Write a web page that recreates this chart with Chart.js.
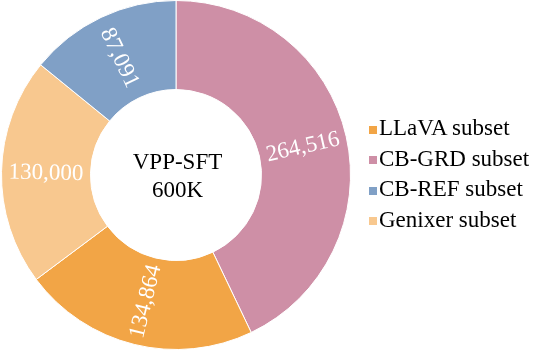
<!DOCTYPE html>
<html>
<head>
<meta charset="utf-8">
<script src="https://cdn.jsdelivr.net/npm/chart.js@4/dist/chart.umd.min.js"></script>
<style>
  html, body { margin: 0; padding: 0; background: #fff; }
  #wrap { position: relative; width: 536px; height: 350px; overflow: hidden; }
  #chart { position: absolute; left: 0; top: 0; }
  #legend { position: absolute; left: 369px; top: 113px; font-family: "Times New Roman", Times, "Liberation Serif", serif; font-size: 23px; color: #000; }
  .item { position: relative; height: 30.5px; line-height: 30.5px; white-space: nowrap; }
  .box { position: absolute; left: 0; top: 12.5px; width: 8px; height: 8px; }
  .txt { margin-left: 10px; }
</style>
</head>
<body>
<div id="wrap">
  <canvas id="chart" width="536" height="350"></canvas>
  <div id="legend"></div>
</div>
<script>
"use strict";

// slices in drawing order, clockwise from 12 o'clock
const categories = ['CB-GRD subset', 'LLaVA subset', 'Genixer subset', 'CB-REF subset'];
const counts = [264516, 134864, 130000, 87091];
const colors = ['#CE8FA6', '#F2A546', '#F8C88F', '#80A0C6'];
// legend lists them in another order
const legendOrder = ['LLaVA subset', 'CB-GRD subset', 'CB-REF subset', 'Genixer subset'];
const centerLines = ['VPP-SFT', '600K'];

const serif = '"Times New Roman", Times, "Liberation Serif", serif';

// white value labels, rotated along the radius like the original
const sliceLabels = {
    id: 'sliceLabels',
    afterDatasetsDraw(chart) {
        const ctx = chart.ctx;
        const meta = chart.getDatasetMeta(0);
        ctx.save();
        ctx.font = '23px ' + serif;
        ctx.fillStyle = '#fff';
        ctx.textAlign = 'center';
        ctx.textBaseline = 'middle';
        meta.data.forEach((arc, i) => {
            const p = arc.getProps(['x', 'y', 'startAngle', 'endAngle', 'innerRadius', 'outerRadius'], true);
            const mid = (p.startAngle + p.endAngle) / 2;
            const r = (p.innerRadius + p.outerRadius) / 2;
            const x = p.x + r * Math.cos(mid);
            const y = p.y + r * Math.sin(mid);
            let rot = mid;
            if (Math.cos(mid) < 0) rot += Math.PI;
            ctx.save();
            ctx.translate(x, y);
            ctx.rotate(rot);
            ctx.fillText(counts[i].toLocaleString('en-US'), 0, 1);
            ctx.restore();
        });
        ctx.restore();
    }
};

const centerText = {
    id: 'centerText',
    afterDraw(chart) {
        const ctx = chart.ctx;
        const arc = chart.getDatasetMeta(0).data[0];
        ctx.save();
        ctx.font = '23px ' + serif;
        ctx.fillStyle = '#000';
        ctx.textAlign = 'center';
        ctx.textBaseline = 'alphabetic';
        ctx.fillText(centerLines[0], arc.x + 1.5, arc.y - 5.7);
        ctx.fillText(centerLines[1], arc.x + 1.5, arc.y + 22.3);
        ctx.restore();
    }
};

new Chart(document.getElementById('chart'), {
    type: 'doughnut',
    data: {
        labels: categories,
        datasets: [{
            data: counts,
            backgroundColor: colors,
            borderColor: '#fff',
            borderWidth: 1
        }]
    },
    options: {
        responsive: false,
        animation: false,
        devicePixelRatio: 1,
        cutout: '49%',
        layout: { padding: { left: 0, right: 184, top: 0, bottom: 0 } },
        plugins: {
            legend: { display: false },
            tooltip: { enabled: false }
        }
    },
    plugins: [sliceLabels, centerText]
});

// legend
const legend = document.getElementById('legend');
legendOrder.forEach(name => {
    const row = document.createElement('div');
    row.className = 'item';
    const box = document.createElement('span');
    box.className = 'box';
    box.style.background = colors[categories.indexOf(name)];
    const txt = document.createElement('span');
    txt.className = 'txt';
    txt.textContent = name;
    row.appendChild(box);
    row.appendChild(txt);
    legend.appendChild(row);
});
</script>
</body>
</html>
